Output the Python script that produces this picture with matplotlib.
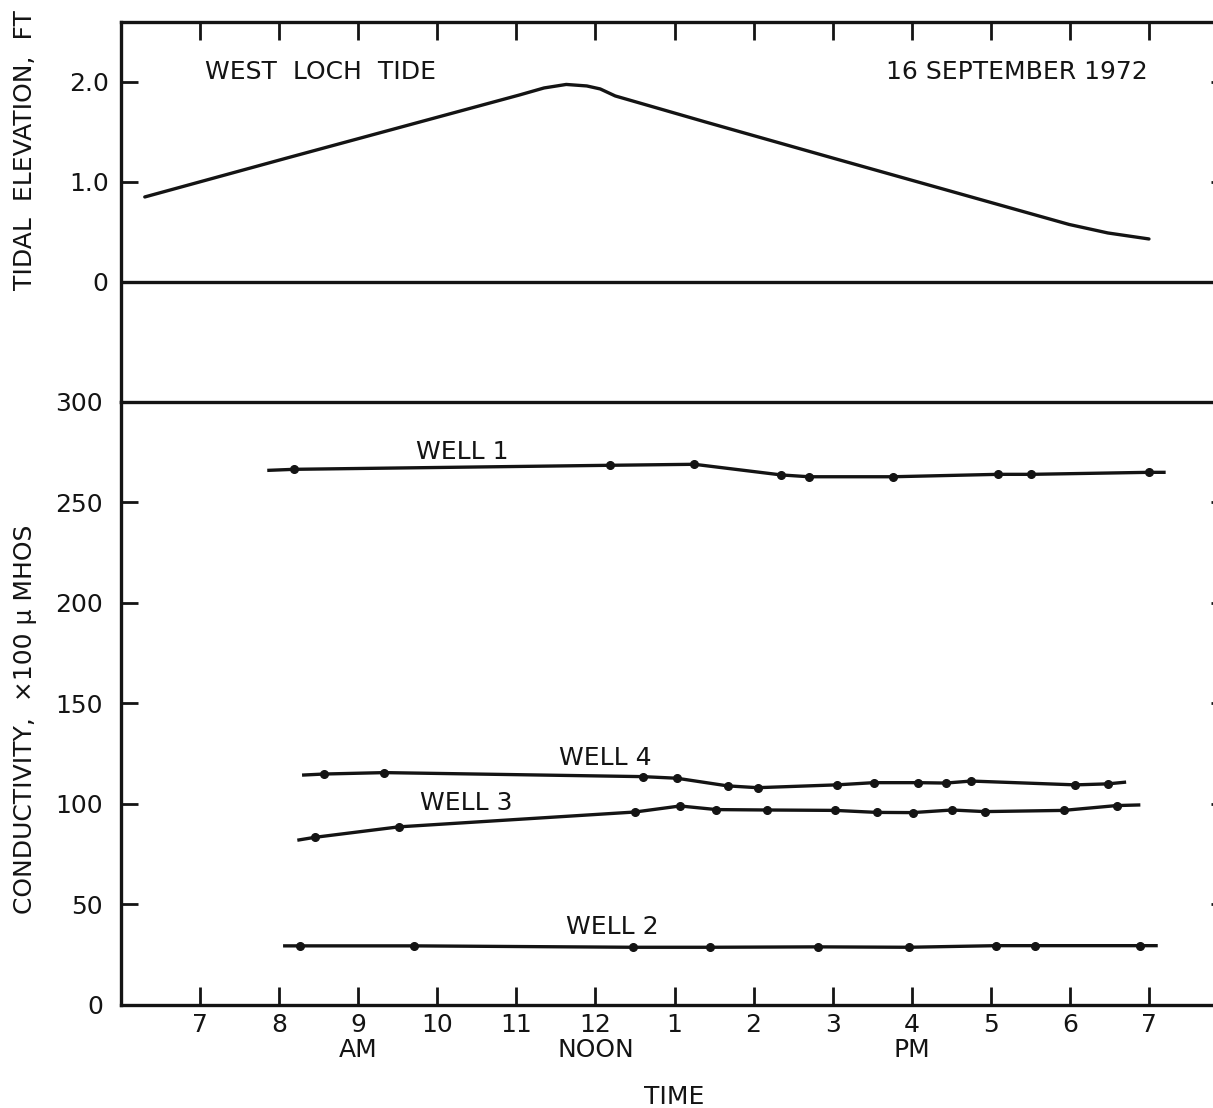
import numpy as np
import matplotlib
matplotlib.use('Agg')
import matplotlib.pyplot as plt

plt.rcParams['font.family'] = 'DejaVu Sans'

# time in hours of the day (13 = 1 PM)
hour_ticks = [7, 8, 9, 10, 11, 12, 13, 14, 15, 16, 17, 18, 19]
hour_labels = ['7', '8', '9', '10', '11', '12', '1', '2', '3', '4', '5', '6', '7']
periods = ['AM', 'NOON', 'PM']
period_hours = [9, 12, 16]

# West Loch tide, ft
tide_t = [6.30, 8.10, 9.78, 11.04, 11.35, 11.63, 11.89, 12.06, 12.25, 13.39,
          15.02, 16.01, 17.00, 17.99, 18.48, 19.00]
tide_v = [0.85, 1.24, 1.60, 1.87, 1.94, 1.975, 1.96, 1.93, 1.86, 1.60,
          1.235, 1.015, 0.795, 0.575, 0.49, 0.43]

# conductivity, x100 micromhos. dot = 1 where a reading was plotted
well1_t = [7.87, 8.19, 12.18, 13.25, 14.35, 14.70, 15.76, 17.09, 17.51, 19.00, 19.19]
well1_v = [266, 266.5, 268.5, 269, 263.7, 262.8, 262.8, 264, 264, 265, 265]
well1_dot = [0, 1, 1, 1, 1, 1, 1, 1, 1, 1, 0]

well4_t = [8.31, 8.57, 9.33, 12.60, 13.03, 13.67, 14.05, 15.05, 15.52, 16.08,
           16.43, 16.75, 18.07, 18.48, 18.69]
well4_v = [114.4, 114.9, 115.6, 113.6, 112.8, 109.0, 108.1, 109.5, 110.6, 110.6,
           110.4, 111.4, 109.5, 110.0, 110.8]
well4_dot = [0, 1, 1, 1, 1, 1, 1, 1, 1, 1, 1, 1, 1, 1, 0]

well3_t = [8.25, 8.45, 9.51, 12.50, 13.07, 13.53, 14.17, 15.03, 15.56, 16.01,
           16.51, 16.92, 17.92, 18.59, 18.87]
well3_v = [82.1, 83.4, 88.6, 96.0, 99.0, 97.2, 97.0, 96.8, 95.8, 95.7,
           97.0, 96.2, 96.8, 99.2, 99.5]
well3_dot = [0, 1, 1, 1, 1, 1, 1, 1, 1, 1, 1, 1, 1, 1, 0]

well2_t = [8.07, 8.26, 9.70, 12.47, 13.45, 14.82, 15.96, 17.07, 17.56, 18.89, 19.09]
well2_v = [29.4, 29.4, 29.4, 28.7, 28.7, 28.9, 28.7, 29.5, 29.5, 29.5, 29.5]
well2_dot = [0, 1, 1, 1, 1, 1, 1, 1, 1, 1, 0]

wells = [('WELL 1', well1_t, well1_v, well1_dot, 10.32, 275),
         ('WELL 4', well4_t, well4_v, well4_dot, 12.12, 123),
         ('WELL 3', well3_t, well3_v, well3_dot, 10.37, 100.5),
         ('WELL 2', well2_t, well2_v, well2_dot, 12.21, 38.8)]

INK = '#141414'
LW = 2.4
FS = 18

fig = plt.figure(figsize=(12.13, 11.08), dpi=100)
# right edge of the frame runs just past the sheet
ax_top = fig.add_axes([0.0998, 0.6372, 0.9126, 0.3430])
ax_bot = fig.add_axes([0.0998, 0.0930, 0.9126, 0.5442])

for ax in (ax_top, ax_bot):
    ax.set_xlim(6, 20)
    for s in ax.spines.values():
        s.set_linewidth(LW)
        s.set_color(INK)
    ax.set_xticks(hour_ticks)
    ax.set_xticks([12], minor=True)
    ax.tick_params(which='both', direction='in', width=2, color=INK,
                   labelsize=FS, labelcolor=INK)
    ax.tick_params(axis='x', which='major', length=13, pad=6)
    ax.tick_params(axis='x', which='minor', length=24)
    ax.tick_params(axis='y', length=12, left=True, right=True)

# tide panel
ax_top.set_ylim(-1.2, 2.6)
ax_top.spines['bottom'].set_visible(False)
ax_top.axhline(0, color=INK, lw=LW)
ax_top.plot(tide_t, tide_v, '-', color=INK, lw=LW, solid_capstyle='round')
ax_top.set_yticks([0, 1, 2])
ax_top.set_yticklabels(['0', '1.0', '2.0'])
ax_top.tick_params(axis='y', pad=9)
ax_top.tick_params(axis='x', which='both', top=True, bottom=False,
                   labeltop=False, labelbottom=False)
ax_top.text(8.52, 2.1, 'WEST  LOCH  TIDE', fontsize=FS, color=INK,
            ha='center', va='center')
ax_top.text(17.33, 2.1, '16 SEPTEMBER 1972', fontsize=FS, color=INK,
            ha='center', va='center')
ax_top.set_ylabel('TIDAL  ELEVATION,  FT', fontsize=FS, color=INK)
ax_top.yaxis.set_label_coords(-0.076, 0.663)

# conductivity panel
ax_bot.set_ylim(0, 300)
for name, t, v, dot, lx, ly in wells:
    t = np.array(t)
    v = np.array(v)
    m = np.array(dot) == 1
    ax_bot.plot(t, v, '-', color=INK, lw=LW)
    ax_bot.plot(t[m], v[m], 'o', color=INK, ms=5.5)
    ax_bot.text(lx, ly, name, fontsize=FS, color=INK, ha='center', va='center')

ax_bot.set_yticks(np.arange(0, 301, 50))
ax_bot.tick_params(axis='y', pad=13)
ax_bot.set_xticklabels(hour_labels)
ax_bot.tick_params(axis='x', which='both', top=False, bottom=True)
for lab, h in zip(periods, period_hours):
    ax_bot.text(h, -0.0746, lab, transform=ax_bot.get_xaxis_transform(),
                fontsize=FS, color=INK, ha='center', va='center')
ax_bot.set_xlabel('TIME', fontsize=FS, color=INK)
ax_bot.xaxis.set_label_coords(0.5, -0.133)
ax_bot.set_ylabel('CONDUCTIVITY,  \u00d7100 \u03bc MHOS', fontsize=FS, color=INK)
ax_bot.yaxis.set_label_coords(-0.076, 0.473)

fig.savefig('out.png', dpi=100, facecolor='white')
